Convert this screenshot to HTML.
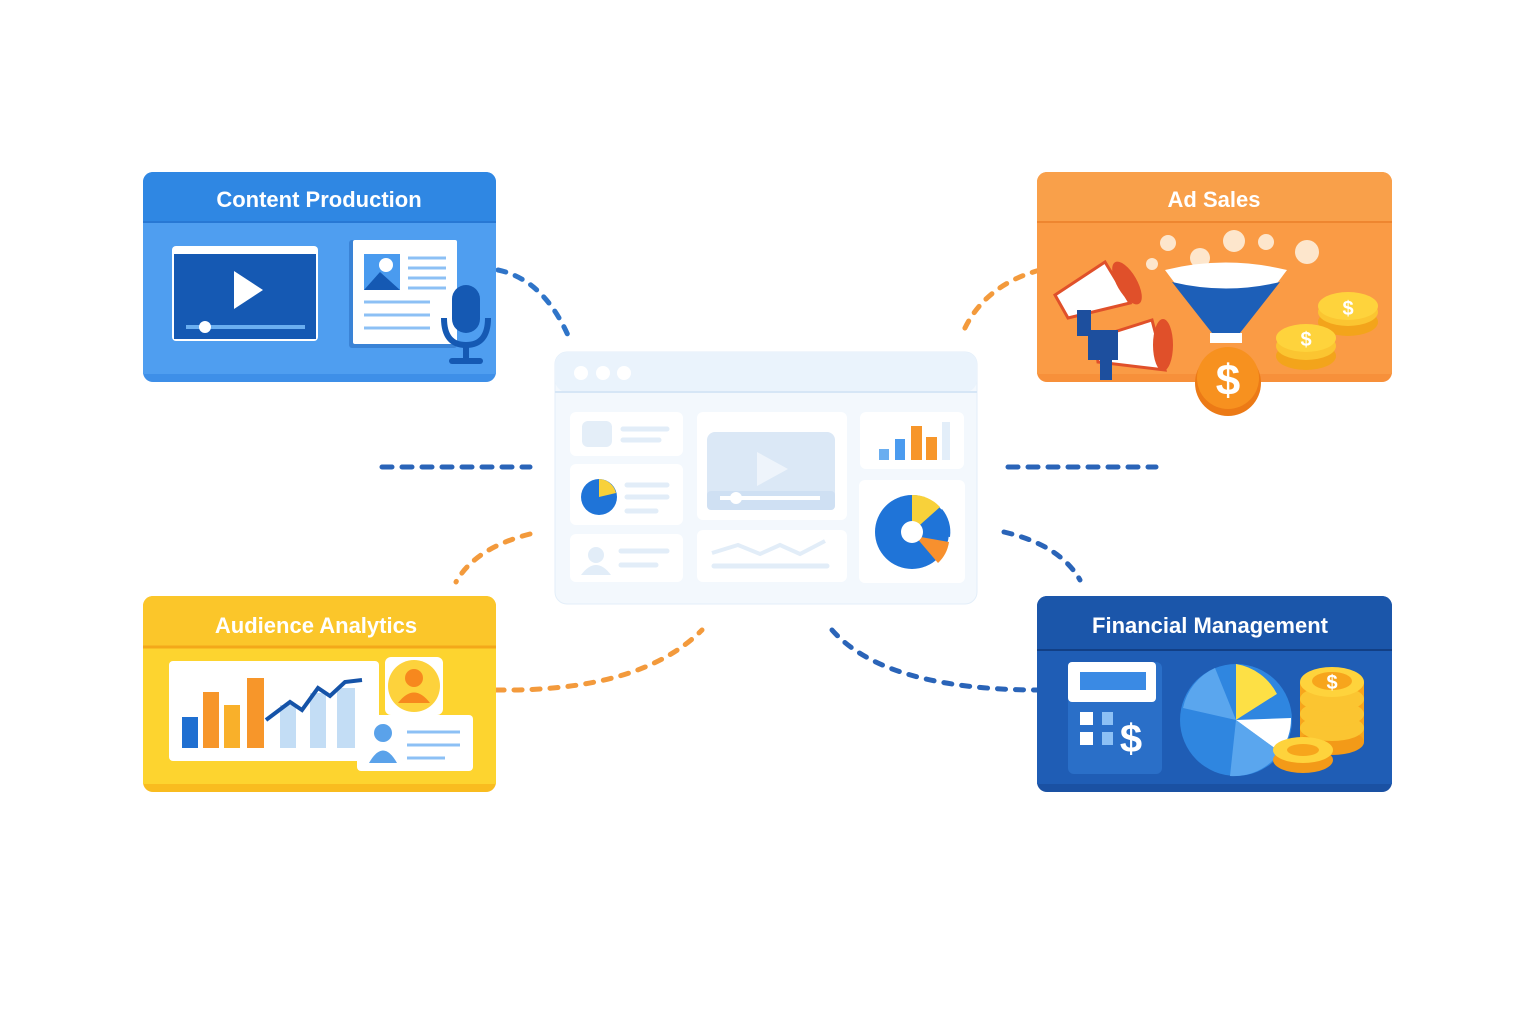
<!DOCTYPE html>
<html><head><meta charset="utf-8"><style>
html,body{margin:0;padding:0;background:#fff;}
svg{display:block}
text{font-family:"Liberation Sans",sans-serif;font-weight:bold;}
</style></head><body>
<svg width="1536" height="1024" viewBox="0 0 1536 1024">
<rect width="1536" height="1024" fill="#fff"/>
<!-- connectors -->
<g fill="none" stroke-width="5" stroke-linecap="round" stroke-dasharray="8 10">
<path d="M498 270 Q545 280 570 340" stroke="#2f74c8"/>
<path d="M382 467 L530 467" stroke="#2a64b8" stroke-dasharray="10 10"/>
<path d="M1008 467 L1156 467" stroke="#2a64b8" stroke-dasharray="10 10"/>
<path d="M1040 270 Q985 285 964 330" stroke="#f39a3c"/>
<path d="M530 534 Q475 548 456 582" stroke="#f39a3c"/>
<path d="M496 690 Q640 692 702 630" stroke="#f39a3c" stroke-dasharray="8 10"/>
<path d="M1004 532 Q1060 545 1080 580" stroke="#2a64b8"/>
<path d="M832 630 Q885 690 1040 690" stroke="#2a64b8"/>
</g>
<circle cx="480" cy="270" r="4" fill="#fff"/><circle cx="492" cy="270" r="4" fill="#fff"/>
<circle cx="1042" cy="270" r="4" fill="#fff"/><circle cx="1054" cy="270" r="4" fill="#fff"/>
<circle cx="480" cy="690" r="4" fill="#f39a3c"/><circle cx="1048" cy="690" r="4" fill="#2a64b8"/>

<!-- center dashboard -->
<rect x="555" y="352" width="422" height="252" rx="12" fill="#f3f8fd" stroke="#e3eef9"/>
<rect x="555" y="352" width="422" height="40" rx="12" fill="#eaf3fc"/>
<line x1="555" y1="392" x2="977" y2="392" stroke="#d6e6f6" stroke-width="2"/>
<circle cx="581" cy="373" r="7" fill="#fff"/><circle cx="603" cy="373" r="7" fill="#fff"/><circle cx="624" cy="373" r="7" fill="#fff"/>
<g fill="#fff">
<rect x="570" y="412" width="113" height="44" rx="6"/>
<rect x="570" y="464" width="113" height="61" rx="6"/>
<rect x="570" y="534" width="113" height="48" rx="6"/>
<rect x="697" y="412" width="150" height="108" rx="6"/>
<rect x="697" y="530" width="150" height="52" rx="6"/>
<rect x="860" y="412" width="104" height="57" rx="6"/>
<rect x="859" y="480" width="106" height="103" rx="6"/>
</g>
<rect x="582" y="421" width="30" height="26" rx="6" fill="#e4eef8"/>
<g stroke="#e2edf8" stroke-width="5" stroke-linecap="round">
<line x1="623" y1="429" x2="667" y2="429"/><line x1="623" y1="440" x2="659" y2="440"/>
<line x1="627" y1="485" x2="667" y2="485"/><line x1="627" y1="497" x2="667" y2="497"/><line x1="627" y1="511" x2="656" y2="511"/>
<line x1="621" y1="551" x2="667" y2="551"/><line x1="621" y1="565" x2="656" y2="565"/>
<line x1="714" y1="566" x2="827" y2="566"/>
</g>
<polyline points="712,553 738,545 760,554 780,545 800,554 825,541" fill="none" stroke="#e2edf8" stroke-width="4"/>
<circle cx="596" cy="555" r="8" fill="#e2edf8"/><path d="M581 575 Q596 555 611 575 Z" fill="#e2edf8"/>
<circle cx="599" cy="497" r="18" fill="#1f74d8"/><path d="M599 497 L599 479 A18 18 0 0 1 616 493 Z" fill="#f8d13a"/>
<rect x="707" y="432" width="128" height="78" rx="8" fill="#dbe8f6"/>
<rect x="707" y="491" width="128" height="19" rx="4" fill="#cfe0f3"/>
<polygon points="757,452 757,486 788,469" fill="#eef4fb"/>
<line x1="720" y1="498" x2="820" y2="498" stroke="#fff" stroke-width="4"/><circle cx="736" cy="498" r="6" fill="#fff"/>
<rect x="879" y="449" width="10" height="11" fill="#6aaef0"/><rect x="895" y="439" width="10" height="21" fill="#4a9bef"/>
<rect x="911" y="426" width="11" height="34" fill="#f7962a"/><rect x="926" y="437" width="11" height="23" fill="#f7962a"/>
<rect x="942" y="422" width="8" height="38" fill="#e3eef9"/>
<circle cx="912" cy="532" r="37" fill="#1f74d8"/>
<path d="M912 532 L912 495 A37 37 0 0 1 940 507 Z" fill="#f8d13a"/>
<path d="M915 532 L942 509 A36 36 0 0 1 950 537 Z" fill="#1f74d8"/>
<path d="M915 536 L949 542 A36 36 0 0 1 938 563 Z" fill="#f7902e"/>
<circle cx="912" cy="532" r="11" fill="#fff"/>

<!-- Content Production -->
<rect x="143" y="172" width="353" height="210" rx="10" fill="#3e8fe8"/>
<rect x="143" y="222" width="353" height="152" fill="#4f9ef0"/>
<rect x="143" y="172" width="353" height="50" rx="10" fill="#2f87e3"/>
<rect x="143" y="212" width="353" height="10" fill="#2f87e3"/>
<line x1="143" y1="222" x2="496" y2="222" stroke="#2878d4" stroke-width="2"/>
<text x="319" y="207" font-size="22" fill="#fff" text-anchor="middle">Content Production</text>
<rect x="172" y="246" width="146" height="95" rx="4" fill="#fff"/>
<rect x="174" y="254" width="142" height="85" fill="#1559b3"/>
<polygon points="234,271 234,309 263,290" fill="#fff"/>
<line x1="186" y1="327" x2="305" y2="327" stroke="#6aaef0" stroke-width="4"/><circle cx="205" cy="327" r="6" fill="#fff"/>
<rect x="349" y="240" width="108" height="108" rx="3" fill="#3a83d6"/>
<rect x="353" y="240" width="104" height="104" rx="2" fill="#fff"/>
<rect x="364" y="254" width="36" height="36" fill="#4a9bef"/><circle cx="386" cy="265" r="7" fill="#fff"/><path d="M364 290 L380 272 L400 290Z" fill="#1559b3"/>
<g stroke="#8cc0f5" stroke-width="3"><line x1="408" y1="258" x2="446" y2="258"/><line x1="408" y1="268" x2="446" y2="268"/><line x1="408" y1="278" x2="446" y2="278"/><line x1="408" y1="288" x2="446" y2="288"/><line x1="364" y1="302" x2="430" y2="302"/><line x1="364" y1="315" x2="430" y2="315"/><line x1="364" y1="328" x2="430" y2="328"/></g>
<rect x="452" y="285" width="28" height="48" rx="14" fill="#1559b3"/>
<path d="M444 318 Q444 345 466 345 Q488 345 488 318" fill="none" stroke="#1559b3" stroke-width="6"/>
<rect x="463" y="345" width="6" height="14" fill="#1559b3"/><rect x="449" y="358" width="34" height="6" rx="3" fill="#1559b3"/>

<!-- Ad Sales -->
<rect x="1037" y="172" width="355" height="210" rx="10" fill="#f7903a"/>
<rect x="1037" y="222" width="355" height="152" fill="#fa9b45"/>
<rect x="1037" y="172" width="355" height="50" rx="10" fill="#f9a04a"/>
<rect x="1037" y="212" width="355" height="10" fill="#f9a04a"/>
<line x1="1037" y1="222" x2="1392" y2="222" stroke="#ee8630" stroke-width="2"/>
<text x="1214" y="207" font-size="22" fill="#fff" text-anchor="middle">Ad Sales</text>
<g fill="#fde6cc"><circle cx="1168" cy="243" r="8"/><circle cx="1234" cy="241" r="11"/><circle cx="1266" cy="242" r="8"/><circle cx="1307" cy="252" r="12"/><circle cx="1200" cy="258" r="10"/><circle cx="1152" cy="264" r="6"/></g>
<path d="M1165 270 Q1225 255 1287 270 L1240 333 L1212 333 Z" fill="#fff"/>
<path d="M1172 282 Q1226 295 1280 282 L1240 333 L1212 333 Z" fill="#1d5fb8"/>
<rect x="1210" y="333" width="32" height="10" fill="#fff"/>
<path d="M1055 295 L1105 262 L1130 303 L1068 318 Z" fill="#fff" stroke="#e0502a" stroke-width="3"/>
<ellipse cx="1127" cy="283" rx="10" ry="24" fill="#e0502a" transform="rotate(-30 1127 283)"/>
<rect x="1077" y="310" width="14" height="26" fill="#1d4f9e"/>
<path d="M1095 338 L1152 320 L1165 370 L1098 362 Z" fill="#fff" stroke="#e0502a" stroke-width="3"/>
<ellipse cx="1163" cy="345" rx="10" ry="26" fill="#e0502a"/>
<rect x="1088" y="330" width="30" height="30" fill="#1d4f9e"/><rect x="1100" y="358" width="12" height="22" fill="#1d4f9e"/>
<g><ellipse cx="1348" cy="322" rx="30" ry="14" fill="#f3a41b"/><ellipse cx="1348" cy="312" rx="30" ry="14" fill="#fbc531"/><ellipse cx="1348" cy="306" rx="30" ry="14" fill="#fed33c"/><text x="1348" y="315" font-size="20" fill="#fff" text-anchor="middle">$</text></g>
<g><ellipse cx="1306" cy="356" rx="30" ry="14" fill="#f3a41b"/><ellipse cx="1306" cy="346" rx="30" ry="14" fill="#fbc531"/><ellipse cx="1306" cy="338" rx="30" ry="14" fill="#fed33c"/><text x="1306" y="346" font-size="20" fill="#fff" text-anchor="middle">$</text></g>
<circle cx="1228" cy="383" r="33" fill="#ec7a16"/><circle cx="1228" cy="378" r="31" fill="#f7911f"/>
<text x="1228" y="395" font-size="44" fill="#fff" text-anchor="middle">$</text>

<!-- Audience Analytics -->
<rect x="143" y="596" width="353" height="196" rx="10" fill="#f9bc1f"/>
<rect x="143" y="646" width="353" height="138" fill="#fdd42f"/>
<rect x="143" y="596" width="353" height="50" rx="10" fill="#fbc62a"/>
<rect x="143" y="636" width="353" height="10" fill="#fbc62a"/>
<line x1="143" y1="647" x2="496" y2="647" stroke="#f3a81a" stroke-width="3"/>
<text x="316" y="633" font-size="22" fill="#fff" text-anchor="middle">Audience Analytics</text>
<rect x="169" y="661" width="210" height="100" rx="4" fill="#fff"/>
<rect x="182" y="717" width="16" height="31" fill="#1f6fd1"/>
<rect x="203" y="692" width="16" height="56" fill="#f7962a"/>
<rect x="224" y="705" width="16" height="43" fill="#f9b02a"/>
<rect x="247" y="678" width="17" height="70" fill="#f7962a"/>
<rect x="280" y="705" width="16" height="43" fill="#c3ddf5"/>
<rect x="310" y="693" width="16" height="55" fill="#c3ddf5"/>
<rect x="337" y="688" width="18" height="60" fill="#c3ddf5"/>
<polyline points="266,720 290,702 302,710 318,688 330,696 345,682 362,680" fill="none" stroke="#1553a8" stroke-width="4"/>
<rect x="385" y="657" width="58" height="58" rx="6" fill="#fff"/>
<circle cx="414" cy="686" r="26" fill="#fdd23c"/><circle cx="414" cy="678" r="9" fill="#f7881e"/><path d="M398 703 Q414 682 430 703 Z" fill="#f7881e"/>
<rect x="357" y="715" width="116" height="56" rx="4" fill="#fff"/>
<circle cx="383" cy="733" r="9" fill="#5aa2ea"/><path d="M369 763 Q383 738 397 763 Z" fill="#5aa2ea"/>
<g stroke="#8cc0f5" stroke-width="3"><line x1="407" y1="732" x2="460" y2="732"/><line x1="407" y1="745" x2="460" y2="745"/><line x1="407" y1="758" x2="445" y2="758"/></g>

<!-- Financial Management -->
<rect x="1037" y="596" width="355" height="196" rx="10" fill="#1a51a3"/>
<rect x="1037" y="650" width="355" height="134" fill="#1f5db5"/>
<rect x="1037" y="596" width="355" height="54" rx="10" fill="#1b56aa"/>
<rect x="1037" y="640" width="355" height="10" fill="#1b56aa"/>
<line x1="1037" y1="650" x2="1392" y2="650" stroke="#123f85" stroke-width="2"/>
<text x="1210" y="633" font-size="22" fill="#fff" text-anchor="middle">Financial Management</text>
<rect x="1068" y="662" width="94" height="112" rx="6" fill="#2a6fc8"/>
<rect x="1068" y="662" width="88" height="40" rx="4" fill="#fff"/>
<rect x="1080" y="672" width="66" height="18" fill="#3a8ae4"/>
<g fill="#fff"><rect x="1080" y="712" width="13" height="13"/><rect x="1080" y="732" width="13" height="13"/></g>
<g fill="#8cc0f5"><rect x="1102" y="712" width="11" height="13"/><rect x="1102" y="732" width="11" height="13"/></g>
<text x="1131" y="752" font-size="40" fill="#fff" text-anchor="middle">$</text>
<circle cx="1236" cy="720" r="56" fill="#2f86e0"/>
<path d="M1236 720 L1236 664 A56 56 0 0 1 1277 694 Z" fill="#fde045"/>
<path d="M1236 720 L1277 694 A56 56 0 0 1 1291 718 Z" fill="#2f86e0"/>
<path d="M1236 720 L1291 718 A56 56 0 0 1 1280 752 Z" fill="#fff"/>
<path d="M1236 720 L1280 752 A56 56 0 0 1 1230 776 Z" fill="#5aa6ee"/>
<path d="M1236 720 L1183 708 A56 56 0 0 1 1215 668 Z" fill="#5aa6ee"/>
<g>
<rect x="1300" y="682" width="64" height="60" fill="#f7a51c"/>
<ellipse cx="1332" cy="742" rx="32" ry="13" fill="#f39a18"/>
<ellipse cx="1332" cy="728" rx="32" ry="13" fill="#fbc531"/>
<ellipse cx="1332" cy="714" rx="32" ry="13" fill="#fbc531"/>
<ellipse cx="1332" cy="699" rx="32" ry="13" fill="#fbc531"/>
<ellipse cx="1332" cy="682" rx="32" ry="15" fill="#fed33c"/>
<ellipse cx="1332" cy="681" rx="20" ry="9" fill="#f7a51c"/>
<text x="1332" y="689" font-size="20" fill="#fff" text-anchor="middle">$</text>
</g>
<ellipse cx="1303" cy="760" rx="30" ry="13" fill="#f39a18"/>
<ellipse cx="1303" cy="750" rx="30" ry="13" fill="#fed33c"/>
<ellipse cx="1303" cy="750" rx="16" ry="6" fill="#f7a51c"/>
</svg>
</body></html>
